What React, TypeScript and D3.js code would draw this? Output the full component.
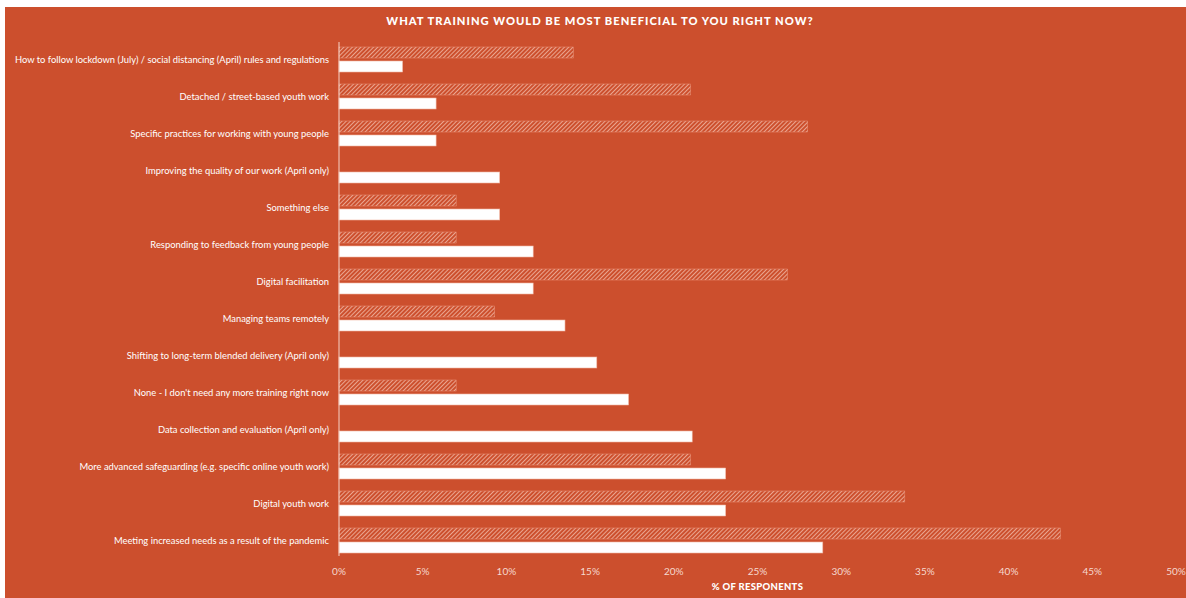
import React from "react";
import * as d3 from "d3";

const categories = [
  "How to follow lockdown (July) / social distancing (April) rules and regulations",
  "Detached / street-based youth work",
  "Specific practices for working with young people",
  "Improving the quality of our work (April only)",
  "Something else",
  "Responding to feedback from young people",
  "Digital facilitation",
  "Managing teams remotely",
  "Shifting to long-term blended delivery (April only)",
  "None - I don't need any more training right now",
  "Data collection and evaluation (April only)",
  "More advanced safeguarding (e.g. specific online youth work)",
  "Digital youth work",
  "Meeting increased needs as a result of the pandemic",
];
const julyValues: (number | null)[] = [14.0, 21.0, 28.0, null, 7.0, 7.0, 26.8, 9.3, null, 7.0, null, 21.0, 33.8, 43.1];
const aprilValues = [3.8, 5.8, 5.8, 9.6, 9.6, 11.6, 11.6, 13.5, 15.4, 17.3, 21.1, 23.1, 23.1, 28.9];
const tickValues = [0, 5, 10, 15, 20, 25, 30, 35, 40, 45, 50];

const W = 1186;
const H = 598;
const BG = "#CC4F2D";
const FONT = "Lato, 'Open Sans', sans-serif";

export default function App() {
  const x = d3.scaleLinear().domain([0, 50]).range([339, 1176]);
  const y = d3.scaleBand().domain(categories).range([41, 559]).paddingInner(0).paddingOuter(0);
  const bh = 11;
  return (
    <svg width={W} height={H} style={{ position: "absolute", left: 0, top: 0, display: "block" }}>
      <defs>
        <pattern id="hatch" patternUnits="userSpaceOnUse" width={3} height={3} patternTransform="rotate(45)">
          <rect width={3} height={3} fill={BG} />
          <line x1={0} y1={0} x2={0} y2={3} stroke="#F5C2B1" strokeWidth={1.5} />
        </pattern>
      </defs>
      <rect x={0} y={0} width={W} height={H} fill="#fff" />
      <rect x={5} y={7} width={W - 5} height={H - 7} fill={BG} />
      <text x={600} y={25} textAnchor="middle" fill="#fff" fontFamily={FONT} fontWeight={900} fontSize={11.2} letterSpacing={1}>
        WHAT TRAINING WOULD BE MOST BENEFICIAL TO YOU RIGHT NOW?
      </text>
      {categories.map((c, i) => {
        const yc = (y(c) as number) + y.bandwidth() / 2;
        const jv = julyValues[i];
        const av = aprilValues[i];
        return (
          <g key={c}>
            <text x={329} y={yc + 3.5} textAnchor="end" fill="#fff" fontFamily={FONT} fontSize={9.4}>
              {c}
            </text>
            {jv != null && (
              <rect x={x(0)} y={yc - bh - 1.5} width={x(jv) - x(0)} height={bh} fill="url(#hatch)" stroke="#E9957C" strokeWidth={0.5} />
            )}
            <rect x={x(0)} y={yc + 1.5} width={x(av) - x(0)} height={bh} fill="#fff" stroke="#F0B5A2" strokeWidth={0.6} />
          </g>
        );
      })}
      <line x1={x(0)} x2={x(0)} y1={42} y2={556} stroke="#F6D3C7" strokeWidth={1} />
      {tickValues.map((t) => (
        <text key={t} x={x(t)} y={575} textAnchor="middle" fill="#F6D9CF" fontFamily={FONT} fontSize={10}>
          {t}%
        </text>
      ))}
      <text x={(x(0) + x(50)) / 2} y={590} textAnchor="middle" fill="#fff" fontFamily={FONT} fontWeight={900} fontSize={9.5} letterSpacing={0.3}>
        % OF RESPONENTS
      </text>
    </svg>
  );
}
